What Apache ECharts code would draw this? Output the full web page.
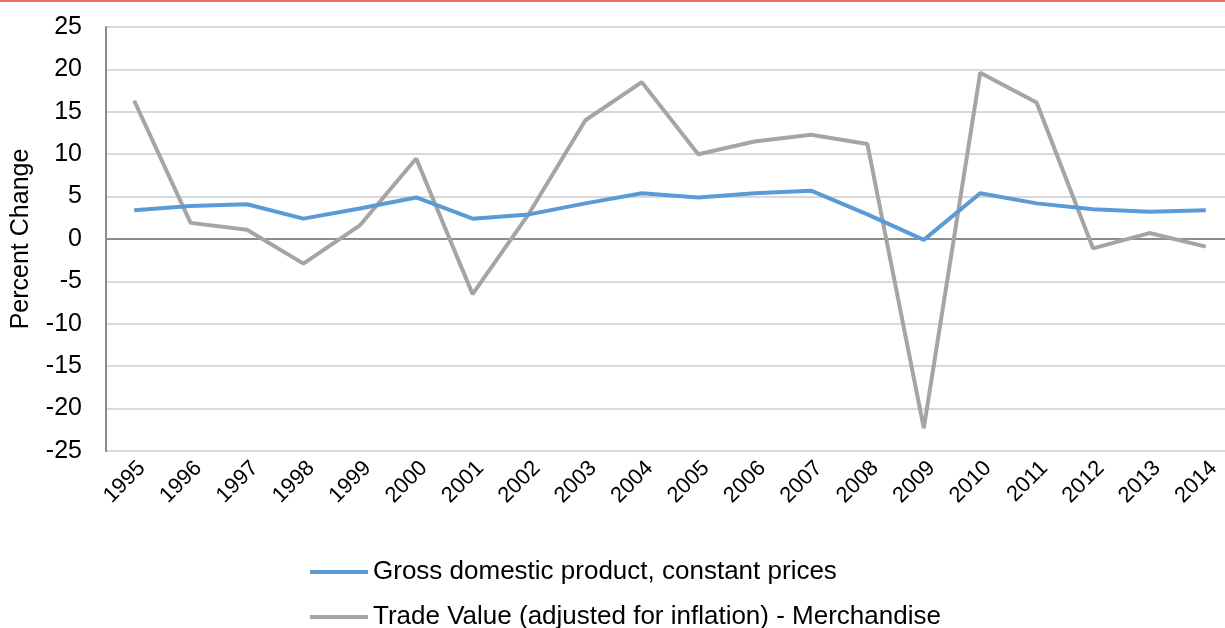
<!DOCTYPE html>
<html>
<head>
<meta charset="utf-8">
<script src="https://cdn.jsdelivr.net/npm/echarts@6/dist/echarts.min.js"></script>
<style>
html,body{margin:0;padding:0;background:#fff;}
#chart{width:1225px;height:628px;}
</style>
</head>
<body>
<div id="chart"></div>
<script>
const years = ['1995','1996','1997','1998','1999','2000','2001','2002','2003','2004','2005','2006','2007','2008','2009','2010','2011','2012','2013','2014'];
const gdp = [3.4, 3.9, 4.1, 2.4, 3.6, 4.9, 2.4, 2.9, 4.2, 5.4, 4.9, 5.4, 5.7, 2.9, -0.1, 5.4, 4.2, 3.5, 3.2, 3.4];
const trade = [16.3, 1.9, 1.1, -2.9, 1.6, 9.5, -6.5, 3.0, 14.0, 18.5, 10.0, 11.5, 12.3, 11.2, -22.3, 19.6, 16.1, -1.1, 0.7, -0.9];
const gdpName = 'Gross domestic product, constant prices';
const tradeName = 'Trade Value (adjusted for inflation) - Merchandise';

const chart = echarts.init(document.getElementById('chart'));
const font = 'Liberation Sans, Arial, Helvetica, sans-serif';
const legendBase = {
  orient: 'vertical', left: 305,
  itemWidth: 58, itemHeight: 4, icon: 'rect',
  textStyle: { fontSize: 26, color: '#000', fontFamily: font }
};
chart.setOption({
  animation: false,
  textStyle: { fontFamily: font },
  graphic: [{ type: 'rect', left: 0, top: 0, shape: { width: 1225, height: 2 }, style: { fill: '#f07062' }, silent: true }],
  grid: { left: 106, top: 27, bottom: 177, right: -9, containLabel: false, outerBoundsMode: 'none' },
  legend: [
    Object.assign({}, legendBase, { top: 554, data: [gdpName] }),
    Object.assign({}, legendBase, { top: 599, data: [tradeName] })
  ],
  xAxis: {
    type: 'category', data: years, boundaryGap: true,
    axisLine: { onZero: false, show: false },
    axisTick: { show: false },
    axisLabel: { rotate: 45, fontSize: 22, color: '#000', margin: 6, interval: 0, verticalAlign: 'top' }
  },
  yAxis: {
    type: 'value', min: -25, max: 25, interval: 5,
    name: 'Percent Change', nameLocation: 'middle', nameGap: 72,
    nameTextStyle: { fontSize: 25, color: '#000' },
    axisLine: { show: true, lineStyle: { color: '#8c8c8c', width: 2 } },
    axisTick: { show: false },
    axisLabel: { fontSize: 25, color: '#000', margin: 24 },
    splitLine: { lineStyle: { color: '#d9d9d9', width: 2 } }
  },
  series: [
    { name: gdpName, type: 'line', data: gdp, symbol: 'none', z: 3,
      lineStyle: { color: '#5b9bd5', width: 4 }, itemStyle: { color: '#5b9bd5' } },
    { name: tradeName, type: 'line', data: trade, symbol: 'none', z: 2,
      lineStyle: { color: '#a5a5a5', width: 4 }, itemStyle: { color: '#a5a5a5' },
      markLine: { silent: true, symbol: 'none', label: { show: false }, z: 1,
        lineStyle: { color: '#8c8c8c', width: 2, type: 'solid' }, data: [{ yAxis: 0 }] } }
  ]
});
</script>
</body>
</html>
